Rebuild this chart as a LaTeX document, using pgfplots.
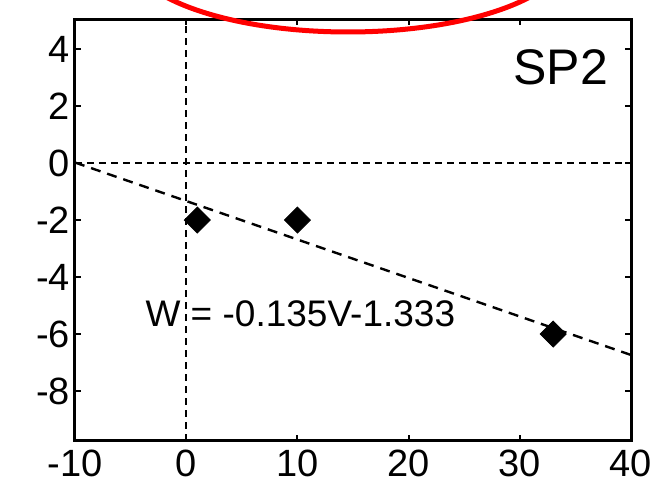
\documentclass[border=0pt]{standalone}
\usepackage{pgfplots}
\pgfplotsset{compat=1.18}
\usepackage{fontspec}
\setmainfont{Liberation Sans}

\begin{document}
\begin{tikzpicture}
\begin{axis}[
  at={(37.5pt,20.5pt)}, anchor=south west,
  scale only axis, width=278pt, height=211pt,
  xmin=-10, xmax=40, ymin=-9.75, ymax=5.05,
  xtick={-10,0,10,20,30,40},
  ytick={-8,-6,-4,-2,0,2,4},
  tick align=inside,
  major tick length=3pt,
  axis line style={line width=1.5pt},
  every tick/.style={black, line width=1pt},
  ticklabel style={font=\fontsize{19}{19}\selectfont},
  /pgf/number format/assume math mode=true,
  xticklabel style={yshift=-1pt},
  yticklabel style={xshift=1pt},
  clip=false,
]
% reference lines through the origin
\addplot[black, line width=1.1pt, dash pattern=on 3.5pt off 2.5pt] coordinates {(0,-9.75) (0,5.05)};
\addplot[black, line width=1.1pt, dash pattern=on 3.5pt off 2.5pt] coordinates {(-10,0) (40,0)};
% fitted line W = -0.135V - 1.333
\addplot[black, line width=1.2pt, dash pattern=on 5pt off 3.5pt] coordinates {(-10,0.017) (40,-6.733)};
% measured points
\addplot[only marks, mark=square*, mark size=4.6pt, mark options={rotate=45}, black] coordinates {(1,-2) (10,-2) (33,-6)};
\node[anchor=base east, inner sep=0pt, font=\fontsize{25}{25}\selectfont] at (axis cs:37.95,2.74) {SP2};
\node[anchor=base west, inner sep=0pt, font=\fontsize{18.5}{18.5}\selectfont] at (axis cs:-3.69,-5.72) {W = -0.135V-1.333};
\end{axis}
\begin{scope}
  \clip (0,0) rectangle (327pt,241pt);
  \draw[red, line width=2.5pt] (174pt,265pt) ellipse [x radius=110pt, y radius=40pt];
\end{scope}
\pgfresetboundingbox
\path (0,0) rectangle (327pt,241pt);
\end{tikzpicture}
\end{document}
